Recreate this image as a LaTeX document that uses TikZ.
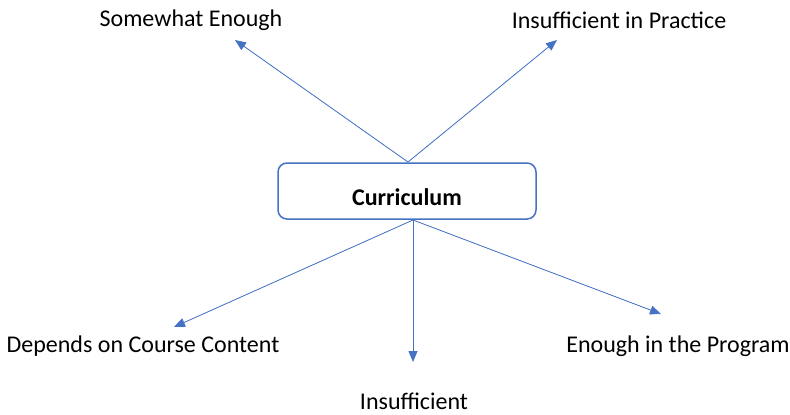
\documentclass[tikz,border=0pt]{standalone}
\usepackage{fontspec}
\setmainfont{Carlito}
\usetikzlibrary{arrows.meta}
\definecolor{ablue}{HTML}{4472C4}
\begin{document}
\begin{tikzpicture}[x=1pt,y=-1pt,
  lbl/.style={font=\fontsize{24}{28}\selectfont, inner sep=0pt, anchor=center},
  conn/.style={draw=ablue, line width=0.8pt, -{Triangle[length=11pt,width=9pt]}, fill=ablue},
  mainbox/.style={draw=ablue, line width=1.5pt, rounded corners=9pt, minimum width=258pt, minimum height=56pt, inner sep=0pt, text height=30pt, text depth=2pt, font=\fontsize{24}{28}\selectfont\bfseries}]
\useasboundingbox (0,0) rectangle (790,415);
\node[mainbox] (cur) at (407,191) {Curriculum};
\coordinate (topc) at (408,162);
\coordinate (botc) at (413,220);
\coordinate (t1) at (235,40);
\coordinate (t2) at (557,40);
\coordinate (b1) at (174,327);
\coordinate (b2) at (413,362);
\coordinate (b3) at (661,314);
\node[lbl] (l1) at (191,20) {Somewhat Enough};
\node[lbl] (l2) at (619,20) {Insufficient in Practice};
\node[lbl] (l3) at (143,346) {Depends on Course Content};
\node[lbl] (l4) at (414,401) {Insufficient};
\node[lbl] (l5) at (678,346) {Enough in the Program};
\draw[conn] (topc) -- (t1);
\draw[conn] (topc) -- (t2);
\draw[conn] (botc) -- (b1);
\draw[conn] (botc) -- (b2);
\draw[conn] (botc) -- (b3);
\end{tikzpicture}
\end{document}
